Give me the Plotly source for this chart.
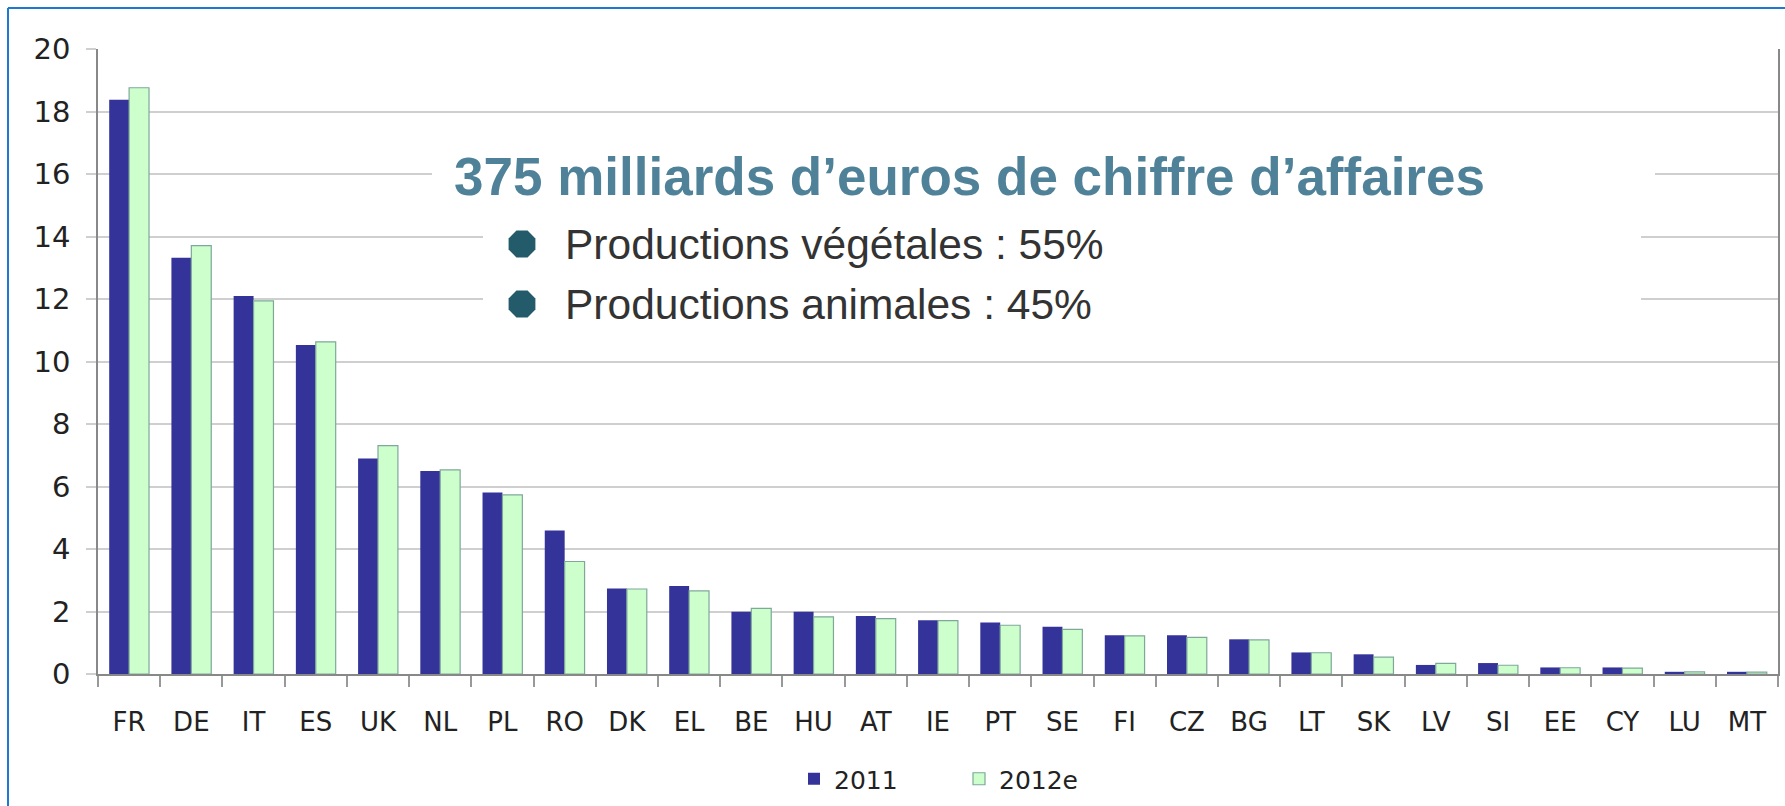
import math
import plotly.graph_objects as go

# ---- data (values in billions of euros) ----
countries = ["FR", "DE", "IT", "ES", "UK", "NL", "PL", "RO", "DK", "EL", "BE", "HU", "AT",
             "IE", "PT", "SE", "FI", "CZ", "BG", "LT", "SK", "LV", "SI", "EE", "CY", "LU", "MT"]
values_2011 = [18.38, 13.32, 12.10, 10.53, 6.90, 6.50, 5.81, 4.59, 2.74, 2.82, 1.99, 1.99, 1.86,
               1.72, 1.65, 1.51, 1.24, 1.24, 1.11, 0.69, 0.63, 0.29, 0.35, 0.21, 0.21, 0.07, 0.07]
values_2012e = [18.76, 13.71, 11.94, 10.63, 7.31, 6.53, 5.73, 3.60, 2.72, 2.66, 2.10, 1.83, 1.77,
                1.71, 1.56, 1.43, 1.22, 1.17, 1.09, 0.68, 0.54, 0.34, 0.28, 0.20, 0.19, 0.07, 0.06]
series_names = ["2011", "2012e"]
y_ticks = [0, 2, 4, 6, 8, 10, 12, 14, 16, 18, 20]

title_text = "375 milliards d\u2019euros de chiffre d\u2019affaires"
bullet_texts = ["Productions v\u00e9g\u00e9tales : 55%", "Productions animales : 45%"]

# ---- layout geometry (pixels) ----
W, H = 1785, 806
PL_, PR_ = 98, 1778   # plot area left / right
PT_, PB_ = 49, 674    # plot area top / bottom


def px(x):
    return (x - PL_) / (PR_ - PL_)


def py(y):
    return (PB_ - y) / (PB_ - PT_)


fig = go.Figure()
fig.add_trace(go.Bar(x=countries, y=values_2011, name=series_names[0],
                     marker=dict(color="#333399", line=dict(color="#333399", width=0))))
fig.add_trace(go.Bar(x=countries, y=values_2012e, name=series_names[1],
                     marker=dict(color="#ccffcc", line=dict(color="#7fa89a", width=1.2))))

shapes = []
# white boxes behind the text (interrupting gridlines)
shapes.append(dict(type="rect", xref="paper", yref="paper", x0=px(432), x1=px(1655),
                   y0=py(205), y1=py(142), fillcolor="white", line=dict(width=0), layer="above"))
shapes.append(dict(type="rect", xref="paper", yref="paper", x0=px(483), x1=px(1641),
                   y0=py(330), y1=py(212), fillcolor="white", line=dict(width=0), layer="above"))
# octagon bullets
r = 14.5
oct_path = "M" + "L".join(
    f"{r*math.cos(math.radians(22.5 + 45*k)):.2f},{r*math.sin(math.radians(22.5 + 45*k)):.2f}"
    for k in range(8)) + "Z"
for cy in (244, 304):
    shapes.append(dict(type="path", xref="paper", yref="paper", xsizemode="pixel", ysizemode="pixel",
                       xanchor=px(522), yanchor=py(cy), path=oct_path,
                       fillcolor="#245b6a", line=dict(width=0), layer="above"))
# blue frame (left and top)
shapes.append(dict(type="line", xref="paper", yref="paper", x0=px(8), x1=px(8), y0=py(8), y1=py(810),
                   line=dict(color="#1f78d1", width=2)))
shapes.append(dict(type="line", xref="paper", yref="paper", x0=px(8), x1=px(1790), y0=py(8), y1=py(8),
                   line=dict(color="#1f78d1", width=2)))

annotations = [
    dict(text=f"<b>{title_text}</b>", xref="paper", yref="paper", x=px(452), y=py(176),
         xanchor="left", yanchor="middle", showarrow=False,
         font=dict(family="Liberation Sans, Arial, sans-serif", size=53, color="#4f8299")),
]
for t, cy in zip(bullet_texts, (244, 304)):
    annotations.append(dict(text=t, xref="paper", yref="paper", x=px(563), y=py(cy),
                            xanchor="left", yanchor="middle", showarrow=False,
                            font=dict(family="Liberation Sans, Arial, sans-serif", size=42.5,
                                      color="#333333")))

fig.update_layout(
    width=W, height=H,
    margin=dict(l=PL_, r=W - PR_, t=PT_, b=H - PB_, pad=0, autoexpand=False),
    paper_bgcolor="white", plot_bgcolor="white",
    barmode="group", bargap=0.36, bargroupgap=0.0,
    font=dict(family="DejaVu Sans, Verdana, sans-serif", size=26, color="#222222"),
    shapes=shapes, annotations=annotations,
    legend=dict(orientation="h", xanchor="left", yanchor="middle", x=px(794), y=py(779),
                font=dict(family="DejaVu Sans, Verdana, sans-serif", size=25, color="#222222"),
                itemwidth=30, entrywidth=120, entrywidthmode="pixels",
                tracegroupgap=0, bgcolor="rgba(0,0,0,0)"),
    showlegend=True,
)
fig.update_xaxes(type="category", showgrid=False, showline=True, linecolor="#888888", linewidth=2,
                 ticks="outside", tickson="boundaries", ticklen=11, tickcolor="#999999", tickwidth=1.5,
                 tickfont=dict(size=26, color="#222222"), ticklabelstandoff=24, mirror=False)
fig.update_yaxes(range=[0, 20], tickvals=y_ticks, showgrid=True, gridcolor="#cfcfcf", gridwidth=2,
                 showline=True, linecolor="#888888", linewidth=1.5, mirror=True,
                 ticks="outside", ticklen=10, tickcolor="#cfcfcf", tickwidth=2,
                 tickfont=dict(size=29, color="#222222"), ticklabelstandoff=10, zeroline=False)

fig.write_html("out.html", config={"displayModeBar": False},
               post_script="document.body.style.margin='0';document.body.style.overflow='hidden';")
